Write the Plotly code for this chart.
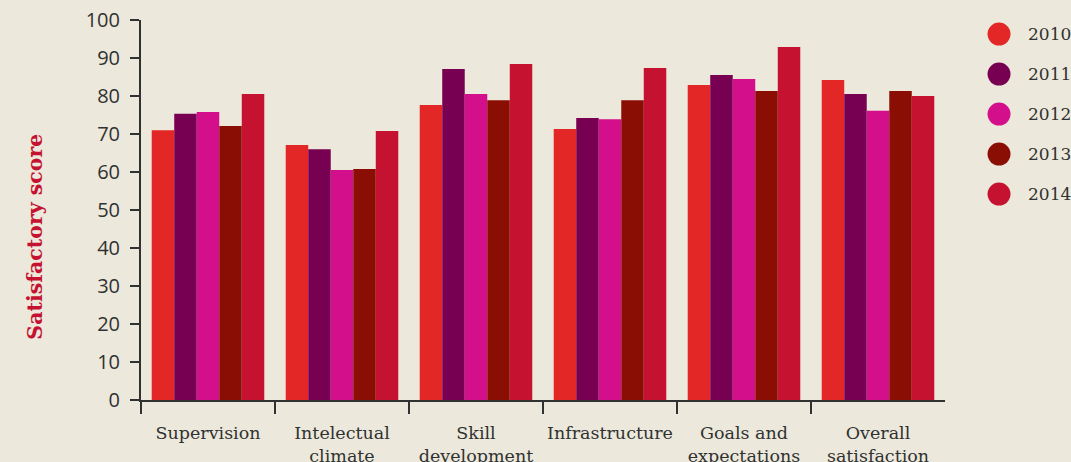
import plotly.graph_objects as go

# Survey categories (x axis) and yearly satisfaction scores
categories = ["Supervision", "Intelectual<br>climate", "Skill<br>development",
              "Infrastructure", "Goals and<br>expectations", "Overall<br>satisfaction"]
years = ["2010", "2011", "2012", "2013", "2014"]
scores_2010 = [71.0, 67.1, 77.6, 71.3, 82.9, 84.2]
scores_2011 = [75.3, 66.0, 87.1, 74.2, 85.5, 80.5]
scores_2012 = [75.8, 60.5, 80.5, 73.9, 84.5, 76.1]
scores_2013 = [72.1, 60.8, 78.9, 78.9, 81.3, 81.3]
scores_2014 = [80.5, 70.8, 88.4, 87.4, 92.9, 80.0]
y_ticks = [0, 10, 20, 30, 40, 50, 60, 70, 80, 90, 100]

series = [scores_2010, scores_2011, scores_2012, scores_2013, scores_2014]
colors = ["#e32726", "#780052", "#d40f8c", "#8b0e04", "#c41230"]

BG = "#ede8dc"
INK = "#2f3230"

positions = list(range(len(categories)))

fig = go.Figure()
for year, vals, col in zip(years, series, colors):
    fig.add_trace(go.Bar(x=positions, y=vals, name=year, marker_color=col,
                         marker_line_width=0, showlegend=False))

# Legend drawn as round swatches with year labels on the right
for i, (year, col) in enumerate(zip(years, colors)):
    yc = 0.963 - i * 0.10526
    fig.add_shape(type="circle", xref="paper", yref="paper",
                  xsizemode="pixel", ysizemode="pixel",
                  xanchor=1.0672, yanchor=yc, x0=-11.5, x1=11.5, y0=-11.5, y1=11.5,
                  fillcolor=col, line_width=0)
    fig.add_annotation(text=year, xref="paper", yref="paper", x=1.1007, y=yc,
                       xanchor="left", yanchor="middle", showarrow=False,
                       font=dict(family="DejaVu Serif", size=17, color=INK))

fig.add_annotation(text="<b>Satisfactory score</b>", xref="paper", yref="paper",
                   x=-0.1318, y=0.43, textangle=-90, showarrow=False,
                   xanchor="center", yanchor="middle",
                   font=dict(family="DejaVu Serif", size=20.5, color="#c41230"))

fig.update_layout(
    width=1071, height=462,
    margin=dict(l=141, r=126, t=20, b=62, autoexpand=False),
    paper_bgcolor=BG, plot_bgcolor=BG,
    barmode="group", bargap=0.16, bargroupgap=0,
    showlegend=False,
)
fig.update_xaxes(
    range=[-0.5, len(categories) - 0.5],
    tickvals=positions, ticktext=categories, ticks="",
    tickfont=dict(family="DejaVu Serif", size=17.5, color=INK),
    ticklabelstandoff=16,
    showline=True, linecolor=INK, linewidth=2, showgrid=False, zeroline=False,
    minor=dict(tickvals=[p - 0.5 for p in positions], ticks="outside",
               ticklen=12, tickwidth=2, tickcolor=INK, showgrid=False),
    automargin=False,
)
fig.update_yaxes(
    range=[0, 100], tickvals=y_ticks, ticks="outside", ticklen=9, tickwidth=2,
    tickcolor=INK, showline=True, linecolor=INK, linewidth=2, showgrid=False,
    zeroline=False, ticklabelstandoff=6,
    tickfont=dict(family="Open Sans", size=20, color=INK),
    automargin=False,
)

fig.write_html("out.html")
